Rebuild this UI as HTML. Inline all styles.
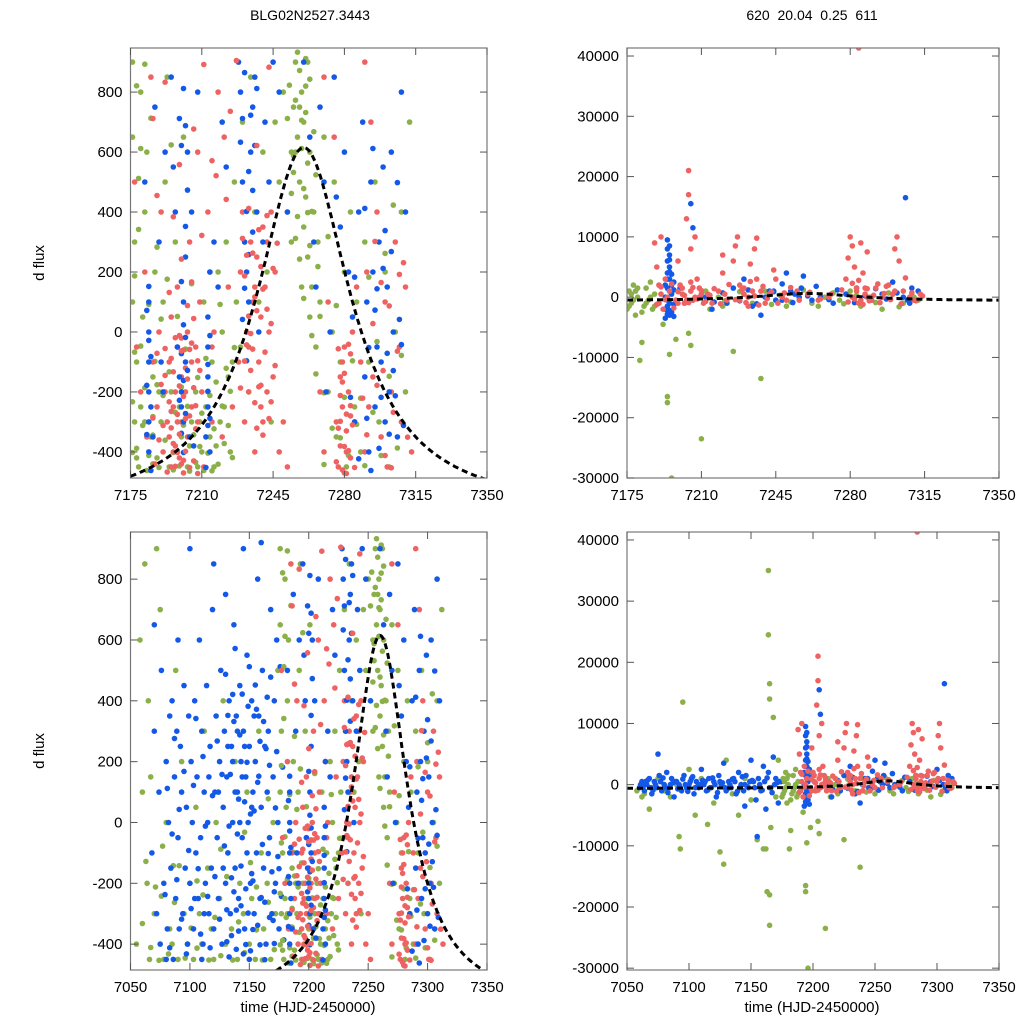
<!DOCTYPE html>
<html><head><meta charset="utf-8"><style>
body{margin:0;background:#fff;}
svg{display:block;font-family:"Liberation Sans",sans-serif;}
</style></head><body>
<svg id="chart" width="1024" height="1024" viewBox="0 0 1024 1024">
<text x="310" y="20" font-size="14" text-anchor="middle">BLG02N2527.3443</text>
<text x="812" y="20" font-size="14" text-anchor="middle" xml:space="preserve">620  20.04  0.25  611</text>
<text transform="translate(44,263) rotate(-90)" font-size="15" text-anchor="middle">d flux</text>
<text transform="translate(44,751) rotate(-90)" font-size="15" text-anchor="middle">d flux</text>
<text x="308" y="1012" font-size="15" text-anchor="middle">time (HJD-2450000)</text>
<text x="812" y="1012" font-size="15" text-anchor="middle">time (HJD-2450000)</text>
</svg>
<script>
// ---- data (t, dflux) ----
const greenMain=[7176,900,7176,650,7177,300,7176,100,7178,-100,7177,-300,7179,-450,7180,-250,7181,50,7182,400,7183,600,7180,800,7185,-350,7186,-150,7187,200,7188,-420,7190,-300,7191,100,7192,500,7193,850,7194,-450,7195,-200,7197,300,7198,-400,7200,-350,7201,650,7203,-450,7205,-300,7207,-200,7208,-450,7210,-400,7211,100,7212,-250,7214,-350,7215,-100,7216,-450,7218,200,7219,-300,7220,0,7222,300,7223,-150,7224,-400,7226,500,7227,100,7229,-50,7230,700,7231,300,7233,-200,7234,850,7236,400,7238,100,7240,600,7242,200,7244,-300,7246,700,7248,500,7250,800,7252,400,7254,600,7255,750,7256,900,7257,650,7258,500,7259,800,7260,350,7260,700,7261,450,7262,900,7262,250,7263,600,7264,150,7265,400,7266,-50,7267,300,7268,100,7270,650,7272,-200,7274,0,7275,500,7276,-350,7278,-100,7280,200,7281,-450,7283,400,7285,-250,7286,100,7288,-400,7290,300,7292,-100,7295,500,7297,-300,7300,200,7302,-450,7305,0,7308,400,7310,-200,7312,700,7178,-420,7182,-300,7186,-440,7189,-200,7196,-460,7199,-250,7204,-380,7209,-300,7213,-200,7217,-380,7221,-250,7225,-100,7258,750,7256,600,7261,820,7254,300,7259,150,7263,50];
const greenMain2=[7176,-233,7177,187,7178,-388,7179,512,7180,-47,7181,-312,7182,-186,7183,-462,7184,92,7185,713,7186,-282,7187,-98,7188,283,7189,-452,7190,43,7191,-212,7192,-361,7193,176,7194,-133,7195,624,7196,-402,7197,-268,7198,52,7199,-447,7200,-184,7201,-311,7202,-57,7203,-248,7204,-464,7205,161,7206,-343,7207,-435,7208,-152,7209,-382,7210,-271,7211,-462,7212,-88,7213,-404,7214,-212,7215,-463,7216,-323,7217,-167,7218,-441,7219,92,7220,-247,7221,-372,7222,-121,7223,-312,7224,-198,7225,-419,7226,-52,7178,821,7180,612,7182,893,7184,-412,7186,-344,7188,-176,7176,-402,7177,-67,7179,342,7252,712,7253,823,7254,462,7255,588,7256,773,7257,385,7258,872,7259,612,7260,478,7261,732,7262,563,7263,843,7264,402,7265,668,7266,524,7267,218,7256,312,7258,243,7260,112,7262,398,7264,-12,7266,-140,7268,52,7270,-203,7272,318,7257,933,7261,912,7259,706,7255,532,7263,288,7278,-353,7280,-218,7282,-412,7284,-96,7286,-308,7288,-221,7290,-446,7292,183,7294,-268,7296,-32,7298,-412,7300,262,7302,-148,7304,423,7306,-387,7308,-78,7274,-321,7276,88,7270,-442];
const redMain=[7177,500,7178,-50,7180,-200,7182,200,7183,-350,7185,850,7186,-100,7188,-250,7189,0,7190,400,7191,-400,7192,-200,7193,-300,7194,-100,7195,-450,7195,50,7196,-250,7197,-380,7198,150,7198,-50,7199,-420,7200,-300,7200,-150,7201,-470,7202,-200,7203,0,7203,-350,7204,300,7205,-100,7205,-250,7206,-430,7207,-50,7208,600,7208,-300,7209,100,7210,-200,7211,-450,7213,400,7214,200,7215,-50,7215,-300,7216,0,7218,800,7220,-350,7221,650,7223,150,7225,-250,7228,-100,7229,200,7230,400,7231,-300,7232,0,7233,-200,7234,300,7235,100,7236,-400,7237,250,7238,-100,7239,50,7240,-300,7240,350,7241,150,7242,-200,7243,0,7244,400,7245,-150,7246,200,7248,-400,7250,-300,7252,-450,7268,-200,7270,-400,7272,100,7276,-300,7277,-450,7278,-150,7278,-380,7279,-250,7280,-470,7280,-50,7281,-330,7282,-200,7283,-420,7284,0,7285,-300,7286,150,7288,-100,7290,-400,7291,200,7292,-250,7293,700,7294,-150,7296,400,7298,-350,7300,100,7301,-450,7303,-200,7305,300,7307,-50,7308,-300,7310,150,7313,-400,7270,850,7275,650,7290,900,7194,-350,7196,-400,7198,-300,7200,-440,7202,-120,7204,-280,7199,-180,7201,-60,7197,-200,7233,-50,7236,150,7239,-250,7242,300,7279,-100,7281,-400,7283,-280,7200,-20,7195,-320];
const redMain2=[7191,-312,7192,-145,7193,-467,7194,-233,7195,-88,7196,-372,7197,-19,7198,-275,7199,-341,7200,-63,7201,-215,7202,-398,7203,-157,7204,-452,7205,-37,7206,-186,7207,-323,7208,-472,7209,-128,7203,88,7205,167,7200,243,7198,-402,7199,-12,7204,-58,7206,45,7207,-246,7208,-96,7201,-428,7202,-289,7194,132,7192,-55,7196,-133,7195,-265,7197,-448,7190,-175,7189,-360,7188,-71,7187,-440,7186,-287,7230,312,7231,187,7232,-43,7233,412,7234,-128,7235,263,7236,-236,7237,71,7238,341,7239,-178,7240,143,7241,-67,7242,388,7243,-289,7244,28,7245,212,7246,-112,7247,296,7232,256,7234,-5,7236,117,7238,-183,7240,-344,7242,76,7244,-233,7229,-187,7231,-97,7233,53,7235,-57,7237,-321,7239,218,7276,-433,7277,-321,7278,-212,7279,-460,7280,-138,7281,-274,7282,-396,7283,-73,7284,-310,7285,-452,7277,-56,7279,-167,7281,-472,7283,-246,7278,-298,7280,-382,7282,-41,7186,712,7192,833,7199,558,7206,677,7211,892,7217,521,7224,736,7237,622,7243,883,7188,455,7196,384,7210,322,7215,571,7222,442,7227,905,7289,-221,7291,-343,7294,28,7296,-178,7298,165,7300,-412,7302,87,7304,-268,7306,-64,7309,231,7311,-351,7295,302,7299,-129,7303,-453,7307,192];
const blueMain=[7182,500,7184,-400,7184,-300,7184,-200,7184,-100,7184,0,7184,100,7185,-250,7186,-350,7187,750,7189,300,7190,-100,7191,-200,7192,600,7195,850,7196,550,7197,400,7198,-50,7199,-150,7200,-250,7200,-200,7201,-300,7201,100,7202,250,7202,-100,7203,600,7204,-350,7205,400,7206,-380,7208,800,7212,-350,7213,-250,7213,-150,7213,-50,7213,50,7214,200,7214,-400,7216,300,7218,150,7220,700,7222,550,7228,900,7229,800,7230,500,7231,300,7232,200,7233,100,7234,600,7235,750,7236,850,7237,400,7238,0,7240,300,7241,700,7243,500,7245,900,7248,800,7252,400,7260,900,7263,650,7265,300,7266,150,7268,750,7270,500,7271,-200,7273,0,7275,850,7276,450,7278,350,7280,600,7282,200,7284,50,7285,-300,7287,400,7289,700,7290,-150,7291,100,7292,-400,7293,500,7294,200,7295,-250,7296,-50,7297,300,7298,-100,7299,550,7300,-300,7301,150,7302,-200,7303,600,7304,0,7306,-350,7308,800,7310,400];
const blueMain2=[7183,-178,7183,-342,7184,-28,7184,152,7185,-462,7183,72,7185,-82,7200,-72,7201,-162,7202,-272,7200,-338,7201,-402,7202,-18,7203,-128,7199,-228,7201,24,7200,168,7202,352,7203,473,7199,712,7201,812,7200,622,7202,688,7213,-312,7213,-108,7213,-198,7214,-12,7212,-452,7214,-288,7229,633,7230,712,7231,865,7232,402,7233,535,7234,723,7235,333,7236,622,7231,146,7233,258,7235,472,7237,812,7230,42,7232,-96,7290,412,7292,-52,7294,612,7296,144,7298,-218,7300,338,7302,-341,7304,-129,7306,498,7308,-42,7291,-288,7293,-462,7295,73,7297,-388,7299,212,7301,-71,7303,268,7305,-213,7307,42,7309,-312,7287,-423,7285,183,7283,-218];
const blueEarly=[7068,-100,7070,300,7072,-300,7074,100,7075,-400,7076,500,7078,-200,7080,200,7081,-350,7082,0,7083,350,7084,-150,7085,400,7086,-450,7087,150,7088,-250,7089,300,7090,-50,7091,-350,7092,250,7093,100,7094,-300,7095,450,7096,-150,7097,50,7098,-400,7099,350,7100,-200,7101,200,7102,0,7103,-350,7104,400,7105,-100,7106,150,7107,-250,7108,600,7109,-50,7110,300,7111,-400,7112,100,7113,-200,7114,450,7115,0,7116,-300,7117,250,7118,-150,7119,700,7120,-350,7121,100,7122,350,7123,-50,7124,-250,7125,200,7126,500,7127,-400,7128,50,7129,300,7130,-200,7131,150,7132,-100,7133,400,7134,-300,7135,250,7136,0,7137,650,7138,-150,7139,350,7140,100,7141,-250,7142,450,7143,200,7144,-50,7145,300,7146,-350,7147,150,7148,550,7149,0,7150,250,7151,-200,7152,400,7153,100,7154,-300,7155,200,7156,-100,7157,800,7158,350,7159,-250,7160,50,7161,500,7162,-150,7163,250,7164,-400,7165,100,7166,300,7167,-50,7168,700,7169,-300,7170,150,7171,400,7172,-200,7173,600,7174,0,7175,-350,7100,900,7120,850,7145,900,7160,920,7090,600,7130,750,7110,-450,7150,-450,7080,-450,7070,650,7136,200,7138,100,7140,300,7142,0,7144,150,7146,250,7148,-100,7152,50,7154,350,7112,-300,7116,150,7104,-250,7124,100,7128,-150,7132,250];
const blueEarly2=[7079,-237,7081,112,7083,-412,7085,-38,7087,276,7089,-188,7091,43,7093,-318,7095,168,7097,-432,7099,-92,7101,-283,7103,122,7105,342,7107,-152,7109,-367,7111,217,7113,-12,7115,-243,7117,-412,7119,88,7121,-178,7123,268,7125,-318,7127,158,7129,-77,7131,-392,7133,-12,7135,-182,7137,332,7139,-288,7141,77,7143,-143,7145,-432,7147,-218,7149,382,7151,28,7153,-352,7155,452,7157,132,7159,267,7161,-72,7163,-262,7165,412,7167,188,7169,-162,7171,-398,7173,233,7130,487,7132,352,7134,158,7136,421,7138,572,7140,-38,7142,288,7144,422,7146,68,7148,198,7150,512,7152,-168,7154,38,7156,372,7158,152,7160,-247,7162,332,7164,243,7166,-102,7168,478,7170,-322,7172,48,7174,-112,7131,-287,7133,-442,7135,-372,7137,-228,7139,-417,7141,-357,7143,-274,7147,-401,7149,-298,7151,-422,7153,-192,7157,-338,7159,-402,7163,-451,7167,-312,7171,-228,7175,-152,7176,512,7177,-243,7178,182,7179,-386];
const greenEarly=[7055,-400,7058,600,7060,100,7062,850,7064,-200,7065,400,7066,-450,7067,150,7070,-300,7072,900,7075,700,7078,-450,7080,0,7083,-350,7085,-400,7088,500,7090,-450,7093,200,7095,-300,7098,-400,7100,-200,7103,-450,7105,50,7108,-300,7110,-400,7112,300,7115,-150,7118,-350,7120,-450,7122,0,7125,-250,7128,400,7130,-400,7132,-100,7135,-350,7138,200,7140,-450,7142,-200,7145,-300,7148,100,7150,-400,7152,-250,7155,-450,7158,300,7160,-100,7162,-350,7165,-200,7168,-450,7170,0,7172,-300,7174,500,7060,-332,7063,-128,7067,-411,7071,-212,7074,-453,7077,-78,7082,-432,7087,-263,7091,-142,7096,-446,7101,-347,7106,-413,7111,-238,7116,-452,7121,-312,7126,-438,7131,-178,7136,-452,7141,-327,7146,-428,7151,-132,7156,-353,7161,-452,7166,-262,7171,-418,7076,-242,7086,-142,7106,-192,7126,-88,7146,-32,7156,-212,7166,78];
const greenBig=[7175,-2000,7176,1000,7177,-1000,7178,2000,7179,-3000,7180,0,7181,-10500,7182,-7500,7183,-1500,7184,1500,7185,-500,7186,2500,7187,-2000,7188,500,7190,-1000,7192,-4500,7194,-16500,7194,-17500,7195,-9500,7196,-30000,7198,-7000,7200,1500,7202,-1000,7204,-6000,7205,-8000,7206,-500,7210,-23500,7212,1000,7214,-2000,7218,0,7220,-1500,7225,-9000,7230,500,7234,-1000,7238,-13500,7240,1000,7245,-500,7250,-1500,7255,500,7262,-1000,7268,0,7275,-500,7280,1000,7285,-1500,7290,0,7295,-2000,7300,500,7305,-1000,7310,0,7312,-500,7176,-1500,7178,-500,7180,1500,7182,-2500,7184,-1000,7186,0,7188,-1500,7177,500,7179,1000,7221,-600,7228,900,7243,-1200,7247,300,7252,-800,7258,1200,7265,-1500,7272,700,7277,-1100,7283,300,7292,-900,7298,700,7303,-1600,7308,-200];
const redBig=[7188,9000,7189,5000,7190,2000,7190,-1000,7191,500,7192,-2000,7193,3000,7194,0,7195,1000,7198,-500,7200,2000,7201,500,7202,-1000,7203,13000,7204,21000,7204,17000,7205,8000,7205,1000,7206,-500,7207,10000,7208,3000,7209,0,7210,500,7215,-1000,7218,1000,7220,4000,7222,-500,7225,6000,7227,10000,7228,2000,7230,500,7232,-1500,7235,8000,7236,3000,7238,1000,7240,-1000,7242,500,7245,3000,7248,0,7250,-500,7255,1000,7260,500,7265,-500,7270,0,7278,3000,7280,10000,7281,8500,7282,5000,7283,1000,7284,-1000,7285,9000,7286,4000,7287,500,7288,0,7290,-500,7292,1500,7295,0,7298,2000,7300,500,7302,10000,7303,6000,7305,1000,7308,0,7310,-500,7313,500,7284,41500,7199,-1000,7201,1500,7203,-500,7205,2500,7207,0,7209,1500,7211,-1000,7213,500,7228,-500,7230,1500,7232,0,7234,1000,7281,0,7283,1500,7285,-500,7287,1500,7289,0];
const redBig2=[7189,-1200,7191,1700,7193,-400,7196,2200,7197,-1800,7199,900,7202,300,7204,-900,7206,1600,7208,-300,7210,1100,7212,-700,7214,300,7216,1400,7219,-1100,7221,500,7223,2100,7226,-400,7229,1200,7231,-900,7233,2600,7235,200,7237,-1300,7239,1800,7241,-200,7243,900,7246,-1000,7249,700,7252,1600,7256,-500,7261,800,7266,-300,7271,500,7276,1200,7279,-800,7281,2300,7282,-300,7284,2800,7286,-1200,7288,1400,7289,-600,7291,300,7293,2200,7294,-900,7296,600,7297,1800,7299,-400,7301,1000,7304,-1100,7306,3200,7309,700,7311,-600,7314,200,7220,7000,7226,8500,7233,5500,7244,4500,7236,9800,7279,6500,7288,7500,7301,8000,7199,6000,7191,10000];
const blueBig=[7193,-3500,7193,-2000,7193,0,7193,2000,7194,4000,7194,6000,7194,8000,7194,9500,7195,-3000,7195,-1000,7195,1000,7195,3000,7195,5000,7195,7000,7196,-2500,7196,500,7197,2500,7198,-500,7200,1500,7205,15500,7206,11500,7212,0,7215,-2000,7222,-1000,7225,1500,7230,3000,7234,-1500,7238,-3000,7242,1000,7245,-500,7250,4000,7254,500,7258,3500,7262,-500,7266,0,7272,-1000,7278,500,7283,1500,7290,-500,7295,500,7300,2500,7305,0,7306,16500,7307,-500,7312,1000,7240,0,7244,1000,7248,-500,7252,1000,7256,0];
const blueBig2=[7194,-2800,7194,-1500,7194,-500,7194,1500,7194,3000,7195,-2200,7195,4200,7195,6200,7195,8500,7196,2000,7196,3800,7197,-1200,7197,-3200,7197,1200,7210,400,7216,-800,7220,700,7228,-600,7232,1200,7236,-1100,7244,900,7248,2200,7253,-900,7257,1500,7260,200,7264,1800,7270,-400,7274,1200,7282,-900,7287,200,7292,1400,7297,-300,7302,700,7308,-1000,7309,1500];
const blueBigEarly=[7060,-500,7062,500,7064,-1000,7066,0,7068,1000,7070,-1500,7072,500,7074,-500,7075,5000,7076,1500,7078,-1000,7080,0,7082,2000,7084,-500,7086,1000,7088,-2000,7090,500,7092,0,7094,-1000,7096,1500,7098,-500,7100,0,7102,1000,7104,-1500,7106,500,7108,-500,7110,2500,7112,0,7114,-1000,7116,1000,7118,-500,7120,500,7122,-2000,7124,1500,7126,0,7128,3500,7130,-1000,7132,500,7134,-500,7136,1000,7138,-1500,7140,2000,7142,0,7144,-1000,7146,1500,7148,-500,7150,4000,7152,500,7154,-2500,7156,1000,7158,-1000,7160,3000,7162,-4000,7164,2000,7166,-500,7168,4500,7170,1000,7172,-3000,7174,500,7155,-8500,7145,-3500,7061,0,7065,500,7069,-500,7073,0,7077,500,7081,-500,7085,0,7089,500,7093,-500,7097,0,7101,500,7105,-500,7109,0,7113,500,7117,-500,7121,0,7125,500,7129,-500,7133,0,7137,500,7141,-500,7145,0,7149,500,7153,-500,7157,0,7161,500,7165,-500,7169,0,7173,500,7063,-300,7067,800,7071,-900,7079,1100,7083,-1300,7087,300,7091,-700,7095,900,7099,-1100,7103,1300,7107,-300,7111,700,7115,-900,7119,1100,7123,-1300,7127,300,7131,-700,7135,900,7139,-1100,7143,1300,7147,-300,7151,700,7159,-900,7163,1100,7167,-1300,7171,300];
const greenBigEarly=[7058,-1000,7062,-2000,7065,500,7068,-4000,7075,1000,7085,-2000,7092,-8500,7093,-10500,7095,13500,7100,2500,7105,-5000,7110,1000,7115,-6500,7120,-3000,7125,-11000,7128,-13000,7130,4000,7135,-1500,7140,-5000,7145,1000,7150,-2500,7155,-9000,7160,-10500,7162,-10500,7163,-17500,7164,35000,7164,24500,7165,16500,7165,14000,7165,-18000,7165,-23000,7166,-7000,7168,11000,7170,-2000,7172,4000,7064,-1500,7070,-500,7080,-1000,7090,0];
// model curve parameters
const modelParams={t0:7260,base:-600,amp:1215,width:28};
const ticksX1=[7175,7210,7245,7280,7315,7350];
const ticksX2=[7050,7100,7150,7200,7250,7300,7350];
const ticksYsmall=[-400,-200,0,200,400,600,800];
const ticksYbig=[-30000,-20000,-10000,0,10000,20000,30000,40000];

const COL={g:'#8bb04a',r:'#ee6262',b:'#1458e8'};
const NS='http://www.w3.org/2000/svg';
const svg=document.getElementById('chart');
function el(tag,attrs,parent){const e=document.createElementNS(NS,tag);for(const k in attrs)e.setAttribute(k,attrs[k]);(parent||svg).appendChild(e);return e;}

function panel(id,px0,px1,py0,py1,xmin,xmax,ymin,ymax,xt,yt,series){
  const sx=t=>px0+(t-xmin)/(xmax-xmin)*(px1-px0);
  const sy=v=>py1-(v-ymin)/(ymax-ymin)*(py1-py0);
  const g=el('g',{});
  
  
  const cid='clip-'+id;
  const cp=el('clipPath',{id:cid},g);el('rect',{x:px0,y:py0,width:px1-px0,height:py1-py0},cp);
  const pts=el('g',{'clip-path':'url(#'+cid+')'},g);
  
  
  for(const s of series){
    for(let i=0;i<s.d.length;i+=2){
      const t=s.d[i],v=s.d[i+1];
      const y=sy(v);
      const c=el('circle',{cx:sx(t).toFixed(1),cy:Math.min(Math.max(y,py0),py1).toFixed(1),r:2.8,fill:COL[s.c]},pts);
      
      
    }
  }
  let d='';
  for(let t=xmin;t<=xmax;t+=0.5){
    const u=(t-modelParams.t0)/modelParams.width;
    const v=modelParams.base+modelParams.amp/(1+u*u);
    d+=(d?'L':'M')+sx(t).toFixed(1)+','+sy(v).toFixed(1);
  }
  const path=el('path',{d:d,fill:'none',stroke:'#000','stroke-width':3,'stroke-dasharray':'6,4'},pts);
  
  
  const fr=el('rect',{x:px0,y:py0,width:px1-px0,height:py1-py0,fill:'none',stroke:'#777','stroke-width':1.2},g);
  
  
  for(const t of xt){
    const x=sx(t);
    el('line',{x1:x,x2:x,y1:py1,y2:py1-7,stroke:'#555'},g);
    el('line',{x1:x,x2:x,y1:py0,y2:py0+7,stroke:'#555'},g);
    const tx=el('text',{x:x,y:py1+22,'font-size':15,'text-anchor':'middle'},g);
    tx.textContent=t;
    
    
  }
  for(const v of yt){
    const y=sy(v);
    el('line',{x1:px0,x2:px0+7,y1:y,y2:y,stroke:'#555'},g);
    el('line',{x1:px1,x2:px1-7,y1:y,y2:y,stroke:'#555'},g);
    const tx=el('text',{x:px0-8,y:y+5,'font-size':15,'text-anchor':'end'},g);
    tx.textContent=v;
    
    
  }
}
panel('top-left',130.5,487,48,478,7175,7350,-487,947,ticksX1,ticksYsmall,
  [{c:'g',d:greenMain},{c:'g',d:greenMain2},{c:'r',d:redMain},{c:'b',d:blueMain},{c:'b',d:blueMain2},{c:'r',d:redMain2}]);
panel('top-right',627,999,48,478,7175,7350,-30000,41330,ticksX1,ticksYbig,
  [{c:'g',d:greenBig},{c:'b',d:blueBig},{c:'b',d:blueBig2},{c:'r',d:redBig},{c:'r',d:redBig2}]);
panel('bottom-left',130.5,487,532,970,7050,7350,-485,955,ticksX2,ticksYsmall,
  [{c:'g',d:greenEarly},{c:'b',d:blueEarly},{c:'b',d:blueEarly2},{c:'g',d:greenMain},{c:'g',d:greenMain2},{c:'r',d:redMain},{c:'b',d:blueMain},{c:'b',d:blueMain2},{c:'r',d:redMain2}]);
panel('bottom-right',627,999,532,970,7050,7350,-30300,41300,ticksX2,ticksYbig,
  [{c:'g',d:greenBigEarly},{c:'b',d:blueBigEarly},{c:'g',d:greenBig},{c:'b',d:blueBig},{c:'b',d:blueBig2},{c:'r',d:redBig},{c:'r',d:redBig2}]);
</script>
</body></html>
